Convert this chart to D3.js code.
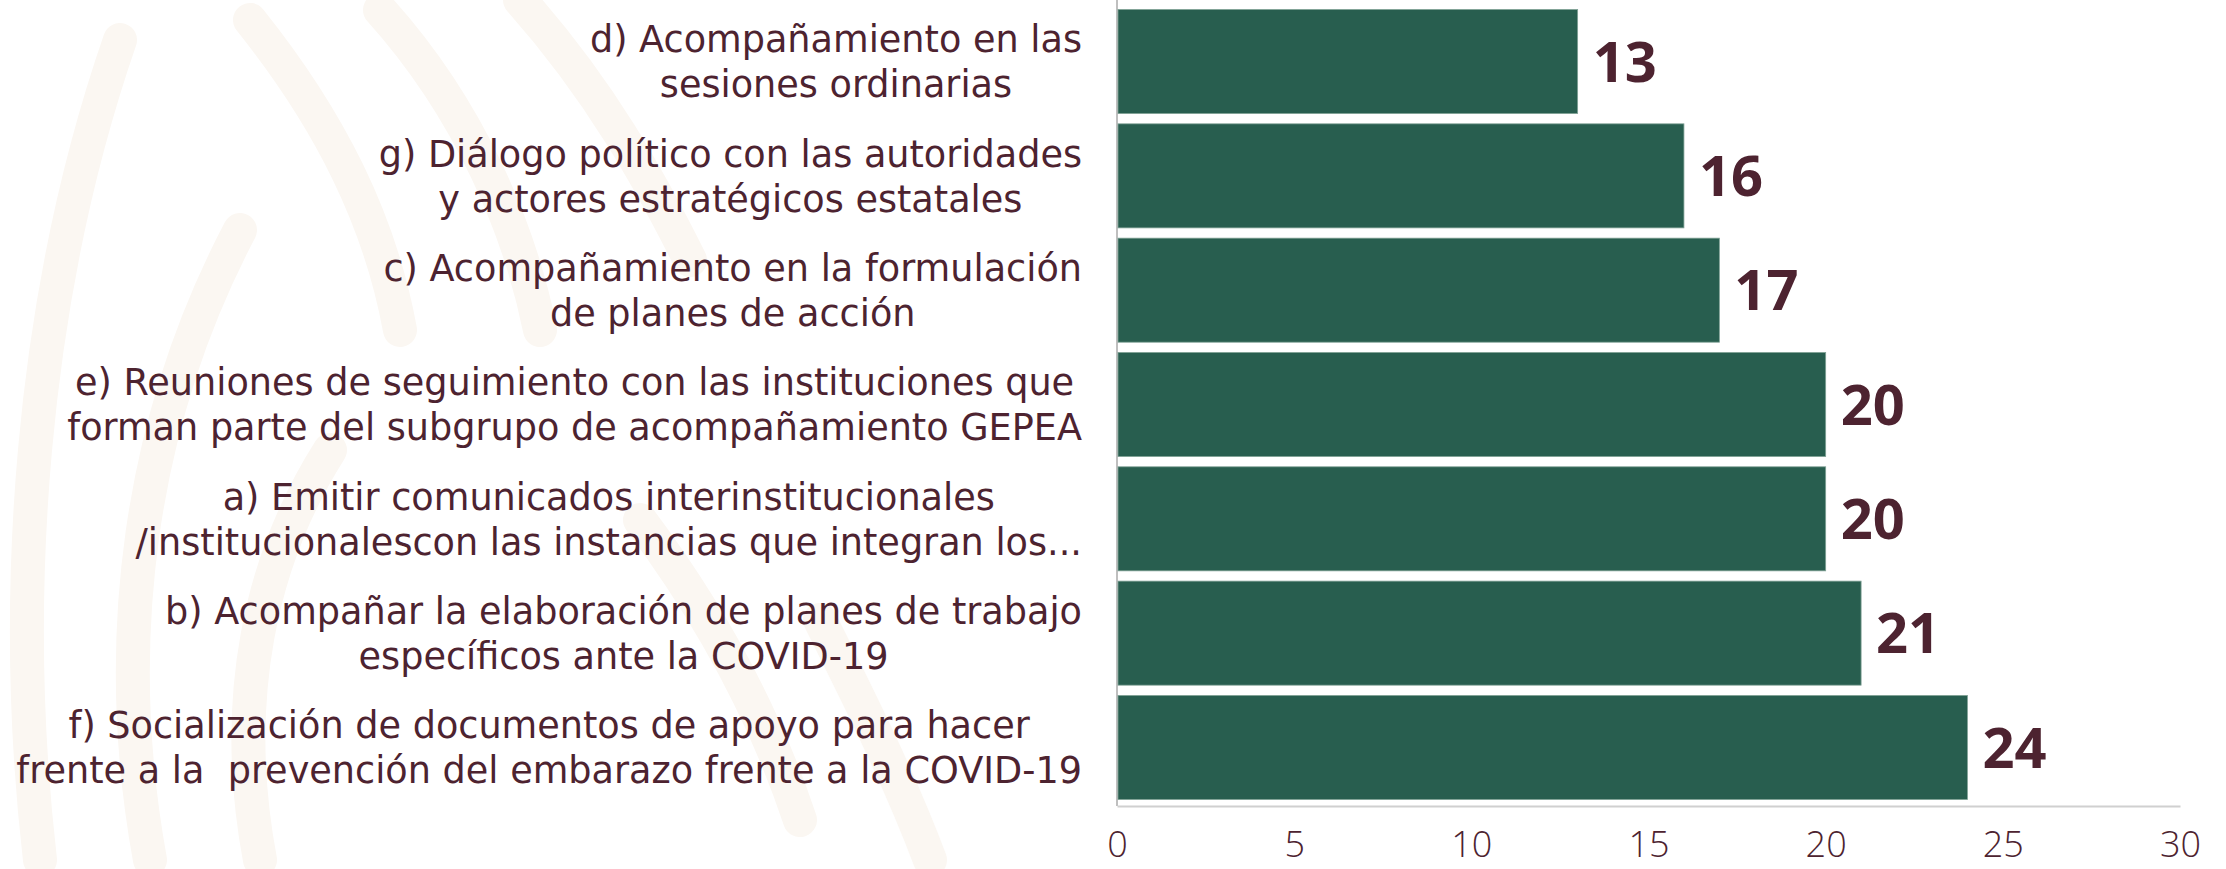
<!DOCTYPE html>
<html>
<head>
<meta charset="utf-8">
<script src="https://cdn.jsdelivr.net/npm/d3@7"></script>
<style>
    html, body { margin: 0; padding: 0; background: #ffffff; }
    #chart svg { display: block; }
    .cat { font-family: "DejaVu Sans", "Open Sans", sans-serif; fill: #4d2330; white-space: pre; }
</style>
</head>
<body>
<div id="chart"></div>
<script>
// categories top to bottom, each split into its two lines
const categories = ["d", "g", "c", "e", "a", "b", "f"];
const labelLines = [
    ["d) Acompañamiento en las", "sesiones ordinarias"],
    ["g) Diálogo político con las autoridades", "y actores estratégicos estatales"],
    ["c) Acompañamiento en la formulación", "de planes de acción"],
    ["e) Reuniones de seguimiento con las instituciones que", "forman parte del subgrupo de acompañamiento GEPEA"],
    ["a) Emitir comunicados interinstitucionales", "/institucionalescon las instancias que integran los..."],
    ["b) Acompañar la elaboración de planes de trabajo", "específicos ante la COVID-19"],
    ["f) Socialización de documentos de apoyo para hacer", "frente a la  prevención del embarazo frente a la COVID-19"]
];
const values = [13, 16, 17, 20, 20, 21, 24];
const xTicks = [0, 5, 10, 15, 20, 25, 30];

const W = 2226, H = 869;
const textColor = "#4d2330";
const barColor = "#285e4f";

const svg = d3.select("#chart")
    .append("svg")
    .attr("width", W)
    .attr("height", H);

// faint watermark feathers on the left
const wm = svg.append("g").attr("fill", "none").attr("stroke", "#fbf7f2").attr("stroke-linecap", "round");
[
    "M40,860 C10,600 30,300 120,40",
    "M150,860 C110,640 140,420 240,230",
    "M260,860 C230,700 260,560 330,450",
    "M250,20 C330,120 380,220 400,330",
    "M380,10 C470,110 520,230 540,330",
    "M520,0 C600,90 650,180 690,260",
    "M640,520 C700,600 760,700 800,820",
    "M820,620 C860,700 900,780 930,860"
].forEach(d => wm.append("path").attr("d", d).attr("stroke-width", 34));

const x = d3.scaleLinear().domain([0, 30]).range([1117, 2180]);
const y = d3.scaleBand()
    .domain(categories)
    .range([3, 806])
    .paddingInner(0.09)
    .paddingOuter(0.057);

// axis lines
svg.append("line")
    .attr("x1", x(0)).attr("x2", x(0))
    .attr("y1", 0).attr("y2", 806)
    .attr("stroke", "#bfbfbf").attr("stroke-width", 2);

const xAxis = svg.append("g")
    .attr("transform", `translate(0,806)`)
    .call(d3.axisBottom(x).tickValues(xTicks).tickSize(0).tickPadding(25));
xAxis.select(".domain").attr("stroke", "#d0d0d0").attr("stroke-width", 2);
xAxis.selectAll("text")
    .attr("fill", textColor)
    .style("font-family", "'Open Sans', sans-serif")
    .style("font-weight", "300")
    .style("font-size", "36px");

// bars
svg.selectAll("rect.bar")
    .data(values)
    .join("rect")
    .attr("class", "bar")
    .attr("x", x(0) + 1)
    .attr("y", (d, i) => y(categories[i]))
    .attr("width", d => x(d) - x(0) - 1)
    .attr("height", y.bandwidth())
    .attr("fill", barColor)
    .attr("stroke", "#7fa195")
    .attr("stroke-width", 0.8);

// value labels
svg.selectAll("text.val")
    .data(values)
    .join("text")
    .attr("class", "val")
    .attr("x", d => x(d) + 15)
    .attr("y", (d, i) => y(categories[i]) + y.bandwidth() / 2)
    .attr("dy", "0.36em")
    .attr("fill", textColor)
    .style("font-family", "'Open Sans', sans-serif")
    .style("font-weight", "700")
    .style("font-size", "56px")
    .text(d => d);

// category labels: two centred lines, block right edge at 1082
const labelRight = 1082;
let fontSize = 34;
const lineGap = 45;

const cats = svg.selectAll("g.catlabel")
    .data(labelLines)
    .join("g")
    .attr("class", "catlabel");

cats.each(function (lines, i) {
    const g = d3.select(this);
    const cy = y(categories[i]) + y.bandwidth() / 2;
    lines.forEach((t, k) => {
        g.append("text")
            .attr("class", "cat")
            .attr("y", cy + (k - 0.5) * lineGap)
            .attr("dy", "0.36em")
            .style("font-size", fontSize + "px")
            .text(t);
    });
});

// fit font so the widest line matches the original width (~1066px)
let widest = 0;
svg.selectAll("text.cat").each(function () {
    widest = Math.max(widest, this.getComputedTextLength());
});
fontSize = fontSize * 1066 / widest;
svg.selectAll("text.cat").style("font-size", fontSize + "px");

cats.each(function () {
    const texts = d3.select(this).selectAll("text");
    let w = 0;
    texts.each(function () { w = Math.max(w, this.getComputedTextLength()); });
    texts.attr("x", labelRight - w / 2).attr("text-anchor", "middle");
});
</script>
</body>
</html>
